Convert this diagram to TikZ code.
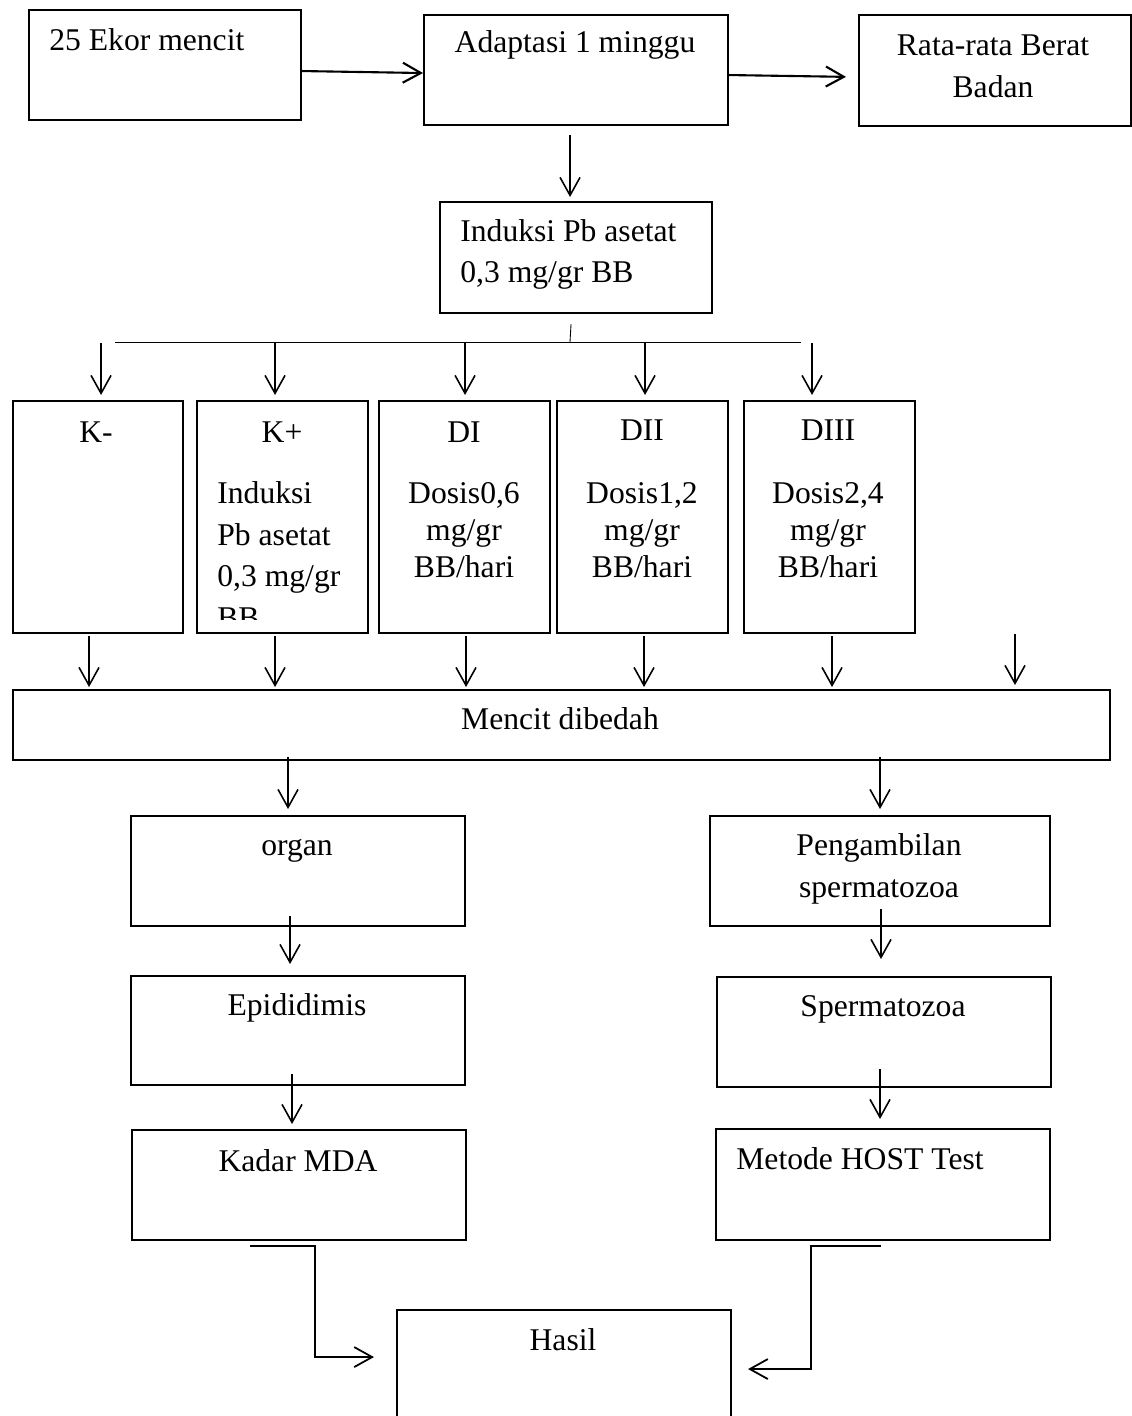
\documentclass[tikz,border=0pt]{standalone}
\usepackage{fontspec}
\setmainfont{Liberation Serif}
\usetikzlibrary{arrows.meta}
\tikzset{
  >={Straight Barb[length=3.6mm,width=4mm]},
  box/.style  ={draw, line width=1.2pt, inner sep=0pt, anchor=north west},
  txt/.style  ={inner sep=0pt, anchor=base, font=\fontsize{18}{23.8}\selectfont},
  arr/.style  ={line width=0.9pt, ->},
  split/.style={line width=0.5pt},
}

\begin{document}
\begin{tikzpicture}[x=0.02cm,y=-0.02cm]
  \useasboundingbox (0,0) rectangle (1132,1416);

  % top row
  \node[box, minimum width=5.44cm, minimum height=2.2cm]  (ekor)  at (28,9)   {};
  \node[box, minimum width=6.08cm, minimum height=2.2cm]  (adapt) at (423,14)  {};
  \node[box, minimum width=5.44cm, minimum height=2.22cm] (rata)  at (858,14)  {};
  \node[txt, anchor=base west] (ekor-t) at (49,51) {25 Ekor mencit};
  \node[txt] (adapt-t) at (575,53) {Adaptasi 1 minggu};
  \node[txt, align=center] (rata-t) at (993,97) {Rata-rata Berat\\Badan};
  \draw[arr, line width=1.2pt] ([yshift=-0.12cm]ekor.east) -- ([yshift=-0.06cm]adapt.west);
  \draw[arr, line width=1.2pt, shorten >=0.24cm] ([yshift=-0.1cm]adapt.east) -- ([yshift=-0.13cm]rata.west);

  % induksi
  \node[box, minimum width=5.44cm, minimum height=2.22cm] (induksi) at (439,201) {};
  \node[txt, anchor=base west, align=left, font=\fontsize{18}{22.8}\selectfont]
    (induksi-t) at (460,282) {Induksi Pb asetat\\0,3 mg/gr BB};
  \draw[arr] ([xshift=-0.12cm,yshift=-0.18cm]adapt.south) -- ([xshift=-0.12cm,yshift=0.08cm]induksi.north);

  % split to the groups
  \coordinate (split) at (570,342);
  \coordinate (bl) at (115,342);
  \coordinate (br) at (801,342);
  \draw[split] ([xshift=-0.1cm,yshift=-0.2cm]induksi.south) -- (split);
  \draw[split] (bl) -- (br);

  % groups
  \node[box, minimum width=3.4cm,  minimum height=4.64cm] (kmin)    at (12,400)  {};
  \node[box, minimum width=3.42cm, minimum height=4.64cm] (kplus)   at (196,400) {};
  \node[box, minimum width=3.42cm, minimum height=4.64cm] (dosisI)   at (378,400) {};
  \node[box, minimum width=3.42cm, minimum height=4.64cm] (dosisII)  at (556,400) {};
  \node[box, minimum width=3.42cm, minimum height=4.64cm] (dosisIII) at (743,400) {};
  \node[txt] (kmin-t)     at (96,442)  {K-};
  \node[txt] (kplus-t)    at (282,442) {K+};
  \node[txt] (dosisI-t)   at (464,442) {DI};
  \node[txt] (dosisII-t)  at (642,440) {DII};
  \node[txt] (dosisIII-t) at (828,440) {DIII};
  \begin{scope}
    \clip (196,400) rectangle (367,619);
    \node[txt, anchor=base west, align=left, font=\fontsize{18}{23.6}\selectfont]
      (kplus-d) at (217,628) {Induksi\\Pb asetat\\0,3 mg/gr\\BB};
  \end{scope}
  \node[txt, align=center, font=\fontsize{18}{21}\selectfont] (dosisI-d)   at (464,577) {Dosis0,6\\mg/gr\\BB/hari};
  \node[txt, align=center, font=\fontsize{18}{21}\selectfont] (dosisII-d)  at (642,577) {Dosis1,2\\mg/gr\\BB/hari};
  \node[txt, align=center, font=\fontsize{18}{21}\selectfont] (dosisIII-d) at (828,577) {Dosis2,4\\mg/gr\\BB/hari};
  \foreach \b/\dx in {kmin/0.06, kplus/-0.15, dosisI/0.01, dosisII/0.05, dosisIII/-0.35}
    \draw[arr] ([xshift=\dx cm, yshift=1.14cm]\b.north) -- ++(0cm,-1.04cm);

  % mencit dibedah
  \node[box, minimum width=21.94cm, minimum height=1.4cm] (bedah) at (12,689) {};
  \node[txt] (bedah-t) at (560,729) {Mencit dibedah};
  \coordinate (extra) at (1015,634);
  \foreach \b/\dx in {kmin/-0.18, kplus/-0.15, dosisI/0.03, dosisII/0.03, dosisIII/0.05}
    \draw[arr] ([xshift=\dx cm, yshift=-0.04cm]\b.south) -- ++(0cm,-1.02cm);
  \draw[arr, shorten >=0.08cm] (extra) -- (extra |- bedah.north);

  % two branches
  \node[box, minimum width=6.68cm, minimum height=2.2cm]  (organ)  at (130,815)  {};
  \node[box, minimum width=6.8cm,  minimum height=2.2cm]  (ambil)  at (709,815)  {};
  \node[box, minimum width=6.68cm, minimum height=2.18cm] (epid)   at (130,975)  {};
  \node[box, minimum width=6.68cm, minimum height=2.2cm]  (sperma) at (716,976)  {};
  \node[box, minimum width=6.68cm, minimum height=2.2cm]  (kadar)  at (131,1129) {};
  \node[box, minimum width=6.68cm, minimum height=2.22cm] (host)   at (715,1128) {};
  \node[txt] (organ-t)  at (297,855)  {organ};
  \node[txt, align=center] (ambil-t) at (879,897) {Pengambilan\\spermatozoa};
  \node[txt] (epid-t)   at (297,1015) {Epididimis};
  \node[txt] (sperma-t) at (883,1016) {Spermatozoa};
  \node[txt] (kadar-t)  at (298,1171) {Kadar MDA};
  \node[txt, anchor=base west] (host-t) at (736,1169) {Metode HOST Test};

  \draw[arr] ([xshift=-0.2cm,yshift=1.16cm]organ.north) -- ([xshift=-0.2cm,yshift=0.12cm]organ.north);
  \draw[arr] ([yshift=1.16cm]ambil.north) -- ([yshift=0.12cm]ambil.north);
  \draw[arr] ([xshift=-0.16cm,yshift=0.22cm]organ.south) -- ([xshift=-0.16cm,yshift=0.22cm]epid.north);
  \draw[arr] ([xshift=0.02cm,yshift=0.36cm]ambil.south) -- ([xshift=-0.06cm,yshift=0.34cm]sperma.north);
  \draw[arr] ([xshift=-0.12cm,yshift=0.24cm]epid.south) -- ([xshift=-0.14cm,yshift=0.1cm]kadar.north);
  \draw[arr] ([xshift=-0.08cm,yshift=0.38cm]sperma.south) -- ([xshift=-0.06cm,yshift=0.18cm]host.north);

  % hasil
  \node[box, minimum width=6.68cm, minimum height=2.62cm] (hasil) at (396,1309) {};
  \node[txt] (hasil-t) at (563,1350) {Hasil};
  \draw[arr, line width=1pt] ([xshift=-0.98cm,yshift=-0.1cm]kadar.south) -- ++(1.3cm,0cm)
    |- ([xshift=-0.44cm,yshift=0.37cm]hasil.west);
  \draw[arr, line width=1pt] ([xshift=-0.04cm,yshift=-0.1cm]host.south) -- ++(-1.4cm,0cm)
    |- ([xshift=0.32cm,yshift=0.13cm]hasil.east);
\end{tikzpicture}
\end{document}
